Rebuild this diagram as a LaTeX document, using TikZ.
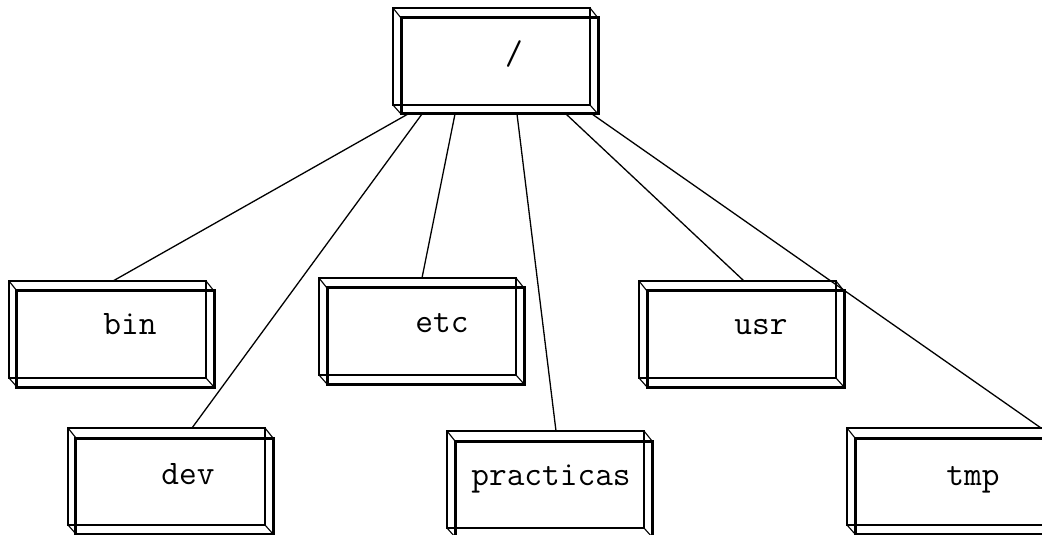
\documentclass[tikz,border=0pt]{standalone}
\usepackage{fontspec}
\usetikzlibrary{calc}

% A directory box: thin back frame, thick front frame, bevel diagonals at the corners.
% #1 name, #2 x, #3 y of the back frame's top-left corner
\newcommand\dirbox[3]{%
  \node[backbox] (#1-b) at (#2+98.5,#3+48.5) {};
  \node[frontbox] (#1) at (#2+106.5,#3+58) {};
  \draw[bevel] (#1-b.north west) -- (#1.north west)
               (#1-b.north east) -- (#1.north east)
               (#1-b.south west) -- (#1.south west)
               (#1-b.south east) -- (#1.south east);
}

\begin{document}
\begin{tikzpicture}[x=1bp,y=-1bp,
  backbox/.style={draw,line width=1.1bp,rectangle,inner sep=0pt,outer sep=0pt,
    minimum width=197bp,minimum height=97bp},
  frontbox/.style={draw,line width=3bp,rectangle,inner sep=0pt,outer sep=0pt,
    minimum width=197bp,minimum height=96bp},
  bevel/.style={line width=1.1bp},
  dirname/.style={font=\ttfamily\fontsize{34.5}{34.5}\selectfont,inner sep=0pt,anchor=base},
  link/.style={line width=1.3bp}]
\useasboundingbox (0,0) rectangle (1042,535);
\clip (0,0) rectangle (1042,535);

% boxes
\dirbox{root}{393}{8}
\dirbox{bin}{9}{281}
\dirbox{etc}{319}{278}
\dirbox{usr}{639}{281}
\dirbox{dev}{68}{428}
\dirbox{practicas}{447}{431}
\dirbox{tmp}{847}{428}

% names
\node[dirname] (root-t) at (514,65) {/};
\node[dirname] (bin-t) at (130,335) {bin};
\node[dirname] (etc-t) at (442,333) {etc};
\node[dirname] (usr-t) at (761,335) {usr};
\node[dirname] (dev-t) at (188,484) {dev};
\node[dirname] (practicas-t) at (551,485) {practicas};
\node[dirname] (tmp-t) at (973,485) {tmp};

% links from the root to each directory
\draw[link] ($(root.south west)+(7,0)$) -- ($(bin-b.north west)+(104,0)$);
\draw[link] ($(root.south west)+(21,0)$) -- ($(dev-b.north west)+(124,0)$);
\draw[link] ($(root.south west)+(54,0)$) -- ($(etc-b.north west)+(103,0)$);
\draw[link] ($(root.south west)+(116,0)$) -- ($(practicas-b.north west)+(109,0)$);
\draw[link] ($(root.south west)+(165,0)$) -- ($(usr-b.north west)+(105,0)$);
\draw[link] ($(root.south west)+(191,0)$) -- ($(tmp-b.north east)+(-3,0)$);
\end{tikzpicture}
\end{document}
